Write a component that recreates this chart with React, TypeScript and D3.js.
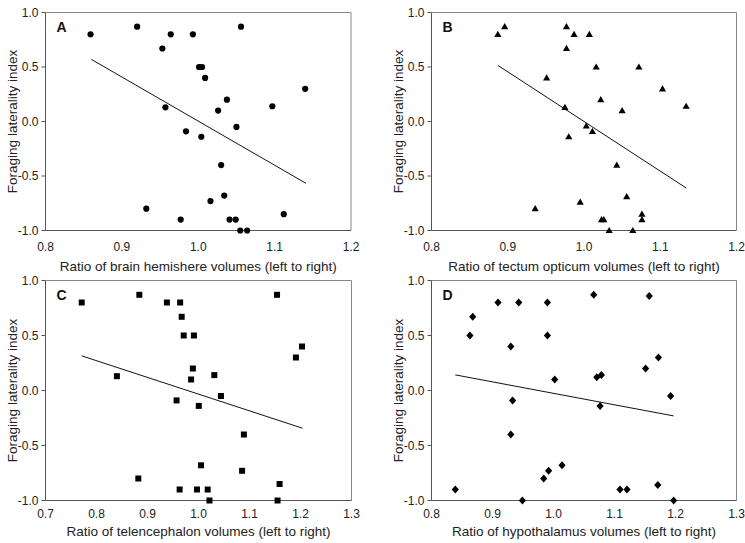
import React from "react";
import * as d3 from "d3";

// ---- Data ----
const xA = [0.859, 0.920, 0.964, 0.993, 0.953, 1.001, 1.005, 1.009, 0.957, 1.056, 1.140, 1.0375, 1.026, 1.097, 1.050, 0.984, 1.004, 1.030, 0.932, 0.977, 1.016, 1.034, 1.041, 1.049, 1.112, 1.055, 1.064];
const yA = [0.80, 0.87, 0.80, 0.80, 0.67, 0.50, 0.50, 0.40, 0.13, 0.87, 0.30, 0.20, 0.10, 0.14, -0.05, -0.09, -0.14, -0.40, -0.80, -0.90, -0.73, -0.68, -0.90, -0.90, -0.85, -1.00, -1.00];
const fitA = [[0.860, 0.57], [1.141, -0.567]];

const xB = [0.887, 0.896, 0.977, 0.987, 1.007, 0.977, 0.951, 0.975, 1.003, 1.016, 1.072, 1.103, 1.022, 1.050, 1.134, 0.980, 0.936, 0.995, 1.011, 1.043, 1.056, 1.023, 1.026, 1.076, 1.076, 1.033, 1.064];
const yB = [0.80, 0.87, 0.87, 0.80, 0.80, 0.67, 0.40, 0.13, -0.04, 0.50, 0.50, 0.30, 0.20, 0.10, 0.14, -0.14, -0.80, -0.74, -0.09, -0.40, -0.69, -0.90, -0.90, -0.85, -0.90, -1.00, -1.00];
const fitB = [[0.887, 0.515], [1.134, -0.61]];

const xC = [0.771, 0.884, 0.938, 0.964, 0.967, 0.971, 0.991, 0.989, 0.9855, 0.840, 0.957, 1.0006, 0.882, 0.963, 0.997, 1.154, 1.203, 1.191, 1.031, 1.044, 1.089, 1.005, 1.0855, 1.159, 1.018, 1.0215, 1.155];
const yC = [0.80, 0.87, 0.80, 0.80, 0.67, 0.50, 0.50, 0.20, 0.10, 0.13, -0.09, -0.14, -0.80, -0.90, -0.90, 0.87, 0.40, 0.30, 0.14, -0.05, -0.40, -0.68, -0.73, -0.85, -0.90, -1.00, -1.00];
const fitC = [[0.771, 0.315], [1.204, -0.343]];

const xD = [0.909, 0.943, 0.990, 0.8676, 0.863, 0.990, 0.930, 1.002, 0.933, 0.930, 1.014, 0.992, 0.984, 0.839, 0.949, 1.066, 1.157, 1.172, 1.151, 1.071, 1.0785, 1.192, 1.0764, 1.109, 1.1205, 1.171, 1.197];
const yD = [0.80, 0.80, 0.80, 0.67, 0.50, 0.50, 0.40, 0.10, -0.09, -0.40, -0.68, -0.73, -0.80, -0.90, -1.00, 0.87, 0.86, 0.30, 0.20, 0.12, 0.14, -0.05, -0.14, -0.90, -0.90, -0.86, -1.00];
const fitD = [[0.839, 0.142], [1.197, -0.231]];

const yTicks = [1.0, 0.5, 0.0, -0.5, -1.0];
const xTicksAB = [0.8, 0.9, 1.0, 1.1, 1.2];
const xTicksC = [0.7, 0.8, 0.9, 1.0, 1.1, 1.2, 1.3];
const xTicksD = [0.8, 0.9, 1.0, 1.1, 1.2, 1.3];

const yTitle = "Foraging laterality index";
const titles = [
  "Ratio of brain hemishere volumes (left to right)",
  "Ratio of tectum opticum volumes (left to right)",
  "Ratio of telencephalon volumes (left to right)",
  "Ratio of hypothalamus volumes (left to right)",
];

const FONT = "'Liberation Sans', Arial, sans-serif";
const AXIS = "#555";
const FRAME = "#888";

type Marker = "circle" | "triangle" | "square" | "diamond";

function markerPath(m: Marker): string {
  if (m === "circle") return d3.symbol(d3.symbolCircle, 30)()!;
  if (m === "triangle") return "M0,-3.6L3.6,2.6L-3.6,2.6Z";
  if (m === "square") return "M-3,-3H3V3H-3Z";
  return "M0,-4L3.6,0L0,4L-3.6,0Z";
}

interface PanelProps {
  left: number; right: number; top: number; bottom: number;
  xs: number[]; ys: number[]; fit: number[][];
  xTicks: number[]; marker: Marker; letter: string; title: string;
  yTitleX: number; tickDy: number; titleDy: number;
}

function Panel(p: PanelProps) {
  const x = d3.scaleLinear().domain([p.xTicks[0], p.xTicks[p.xTicks.length - 1]]).range([p.left, p.right]);
  const y = d3.scaleLinear().domain([-1, 1]).range([p.bottom, p.top]);
  const path = markerPath(p.marker);
  const line = d3.line<number[]>().x(d => x(d[0])).y(d => y(d[1]));
  const cy = (p.top + p.bottom) / 2;
  const cx = (p.left + p.right) / 2;
  return (
    <g>
      <line x1={p.left} x2={p.right} y1={p.top} y2={p.top} stroke={FRAME} strokeWidth={1} />
      <line x1={p.right} x2={p.right} y1={p.top} y2={p.bottom} stroke={FRAME} strokeWidth={1} />
      <line x1={p.left} x2={p.right} y1={p.bottom} y2={p.bottom} stroke={AXIS} strokeWidth={1} />
      <line x1={p.left} x2={p.left} y1={p.top} y2={p.bottom} stroke={AXIS} strokeWidth={1} />
      {yTicks.map(t => (
        <g key={t}>
          <line x1={p.left - 4} x2={p.left} y1={y(t)} y2={y(t)} stroke={AXIS} />
          <text x={p.left - 7} y={y(t) + 4} textAnchor="end" fontSize={12} fontFamily={FONT} fill="#222">
            {d3.format(".1f")(t).replace("−", "-")}
          </text>
        </g>
      ))}
      {p.xTicks.map(t => (
        <text key={t} x={x(t)} y={p.bottom + p.tickDy} textAnchor="middle" fontSize={12} fontFamily={FONT} fill="#222">
          {d3.format(".1f")(t)}
        </text>
      ))}
      <text x={cx} y={p.bottom + p.titleDy} textAnchor="middle" fontSize={13.5} fontFamily={FONT} fill="#222">{p.title}</text>
      <text transform={`translate(${p.yTitleX},${cy}) rotate(-90)`} textAnchor="middle" fontSize={13.5} fontFamily={FONT} fill="#222">{yTitle}</text>
      <text x={p.left + 11} y={p.top + 19.5} fontSize={14} fontWeight="bold" fontFamily={FONT} fill="#111">{p.letter}</text>
      <path d={line(p.fit)!} fill="none" stroke="#111" strokeWidth={1} />
      {p.xs.map((v, i) => (
        <path key={i} d={path} transform={`translate(${x(v)},${y(p.ys[i])})`} fill="#000" />
      ))}
    </g>
  );
}

export default function App() {
  return (
    <svg width={745} height={543} style={{ position: "absolute", left: 0, top: 0, background: "#fff" }}>
      <rect width={745} height={543} fill="#fff" />
      <Panel left={45.5} right={351} top={12.5} bottom={230.5} xs={xA} ys={yA} fit={fitA}
        xTicks={xTicksAB} marker="circle" letter="A" title={titles[0]} yTitleX={17} tickDy={20} titleDy={40} />
      <Panel left={431.5} right={736.5} top={12.5} bottom={230.5} xs={xB} ys={yB} fit={fitB}
        xTicks={xTicksAB} marker="triangle" letter="B" title={titles[1]} yTitleX={403} tickDy={20} titleDy={40} />
      <Panel left={45.5} right={351.5} top={280.5} bottom={500.5} xs={xC} ys={yC} fit={fitC}
        xTicks={xTicksC} marker="square" letter="C" title={titles[2]} yTitleX={17} tickDy={17} titleDy={35} />
      <Panel left={431.5} right={736.5} top={280.5} bottom={500.5} xs={xD} ys={yD} fit={fitD}
        xTicks={xTicksD} marker="diamond" letter="D" title={titles[3]} yTitleX={403} tickDy={17} titleDy={35} />
    </svg>
  );
}
